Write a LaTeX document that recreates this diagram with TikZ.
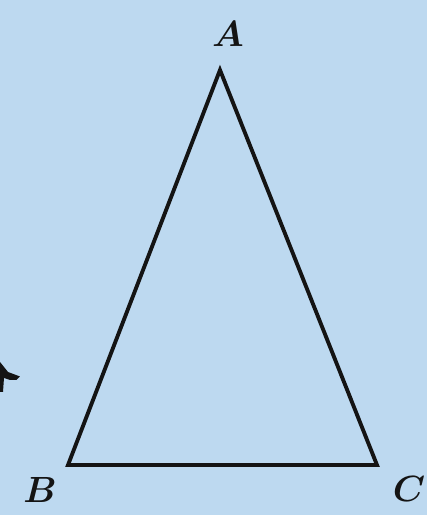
\documentclass[tikz,border=0pt]{standalone}
\usepackage{amsmath,amssymb}
\usepackage{xcolor}
\usepackage{tikz}
\definecolor{paleblue}{RGB}{189,217,240}
\definecolor{inkblack}{RGB}{20,20,20}

\begin{document}
\begin{tikzpicture}
      % Background panel
      \fill[paleblue] (0,0) rectangle (8.54,10.3);
      \useasboundingbox (0,0) rectangle (8.54,10.3);
      % Vertices
      \coordinate (A) at (4.40,8.90);
      \coordinate (B) at (1.36,1.00);
      \coordinate (C) at (7.54,1.00);
      % Triangle sides
      \draw[inkblack, line width=2.2pt, line join=miter] (A) -- (B) -- (C) -- cycle;
      % Vertex labels
      \node[inkblack, font=\fontsize{22}{24}\selectfont\boldmath] (labA) at (4.56,9.62) {$A$};
      \node[inkblack, font=\fontsize{22}{24}\selectfont\boldmath] (labB) at (0.80,0.50) {$B$};
      \node[inkblack, font=\fontsize{22}{24}\selectfont\boldmath] (labC) at (8.18,0.52) {$C$};
      % Cut-off mark at the left edge
      \fill[inkblack] (0,3.06) -- (0.16,2.86) -- (0.40,2.77) -- (0.33,2.70)
        -- (0.20,2.70) -- (0.08,2.74) -- (0.06,2.46) -- (0,2.46) -- cycle;
    \end{tikzpicture}
\end{document}
